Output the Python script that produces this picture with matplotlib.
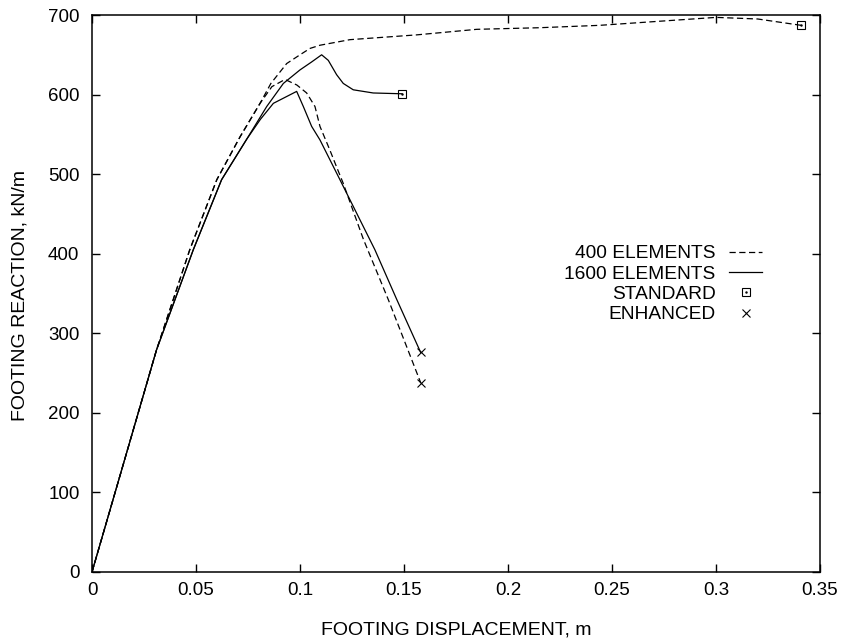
import matplotlib
matplotlib.use("Agg")
import matplotlib.pyplot as plt
from matplotlib.lines import Line2D
from matplotlib.legend_handler import HandlerTuple

plt.rcParams['font.family'] = ['Liberation Sans', 'DejaVu Sans']

# ---- data ----
x_400_std = [0, 0.011, 0.031, 0.047, 0.060, 0.0712, 0.0808, 0.086, 0.0936, 0.100, 0.1048,
             0.1096, 0.124, 0.156, 0.185, 0.215, 0.244, 0.272, 0.300, 0.320, 0.341]
y_400_std = [0, 99, 279, 405, 493, 547, 589, 614, 639, 650, 658,
             662, 669, 675, 682, 684, 687, 692, 697, 695, 687]

x_400_enh = [0, 0.011, 0.031, 0.047, 0.060, 0.0712, 0.0808, 0.0865, 0.0928, 0.0985, 0.1032,
             0.1072, 0.1096, 0.1144, 0.1176, 0.1207, 0.1305, 0.1425, 0.1519, 0.158]
y_400_enh = [0, 99, 279, 405, 493, 547, 589, 610, 619, 612, 602,
             585, 560, 530, 509, 489, 418, 342, 279, 238]

x_1600_std = [0, 0.011, 0.031, 0.0487, 0.0623, 0.0744, 0.084, 0.092, 0.100, 0.1056, 0.1104,
              0.1136, 0.1176, 0.1208, 0.1256, 0.1352, 0.149]
y_1600_std = [0, 99, 279, 405, 493, 544, 585, 614, 631, 641, 650,
              643, 625, 614, 606, 602, 601]

x_1600_enh = [0, 0.011, 0.031, 0.0487, 0.0623, 0.0744, 0.081, 0.0872, 0.0984, 0.1016, 0.1056,
              0.1096, 0.1192, 0.136, 0.1466, 0.158]
y_1600_enh = [0, 99, 279, 405, 493, 544, 569, 589, 604, 585, 560,
              543, 493, 405, 342, 276]

x_ticks = [0, 0.05, 0.1, 0.15, 0.2, 0.25, 0.3, 0.35]
x_tick_labels = ['0', '0.05', '0.1', '0.15', '0.2', '0.25', '0.3', '0.35']
y_ticks = [0, 100, 200, 300, 400, 500, 600, 700]

legend_labels = ['400 ELEMENTS', '1600 ELEMENTS', 'STANDARD', 'ENHANCED']
x_label = 'FOOTING DISPLACEMENT, m'
y_label = 'FOOTING REACTION, kN/m'

# ---- figure ----
fig = plt.figure(figsize=(8.42, 6.43), dpi=100)
ax = fig.add_axes([92 / 842, (643 - 572) / 643, 728 / 842, 557 / 643])

lw = 0.9
dash = (5, 2.8)
k = 'black'

# 400 elements, standard
ax.plot(x_400_std, y_400_std, color=k, lw=lw, dashes=dash, marker='s', ms=5.5,
        mfc='none', mec=k, mew=0.8, markevery=[-1])
ax.plot(x_400_std, y_400_std, ls='none', marker='.', ms=1.5, color=k, markevery=[-1])
# 400 elements, enhanced
ax.plot(x_400_enh, y_400_enh, color=k, lw=lw, dashes=dash, marker='x', ms=6,
        mec=k, mew=0.8, markevery=[-1])
# 1600 elements, standard
ax.plot(x_1600_std, y_1600_std, color=k, lw=lw, marker='s', ms=5.5,
        mfc='none', mec=k, mew=0.8, markevery=[-1])
ax.plot(x_1600_std, y_1600_std, ls='none', marker='.', ms=1.5, color=k, markevery=[-1])
# 1600 elements, enhanced
ax.plot(x_1600_enh, y_1600_enh, color=k, lw=lw, marker='x', ms=6,
        mec=k, mew=0.8, markevery=[-1])

ax.set_xlim(0, 0.35)
ax.set_ylim(0, 700)
ax.set_xticks(x_ticks)
ax.set_xticklabels(x_tick_labels)
ax.set_yticks(y_ticks)

for s in ax.spines.values():
    s.set_linewidth(1.1)
ax.tick_params(axis='both', which='major', direction='in', length=5.5, width=1.0,
               top=True, right=True, labelsize=13.5)
ax.tick_params(axis='x', pad=7)
ax.tick_params(axis='y', pad=9)

ax.set_xlabel(x_label, fontsize=14)
ax.set_ylabel(y_label, fontsize=14)
ax.xaxis.set_label_coords(0.5, -0.088)
ax.yaxis.set_label_coords(-0.087, 0.497)

# legend
h_dash = Line2D([], [], color=k, lw=lw, dashes=dash)
h_solid = Line2D([], [], color=k, lw=lw)
h_sq = (Line2D([], [], ls='none', marker='s', ms=5.5, mfc='none', mec=k, mew=0.8),
        Line2D([], [], ls='none', marker='.', ms=1.5, color=k))
h_x = Line2D([], [], ls='none', marker='x', ms=6, mec=k, mew=0.8)
leg = ax.legend([h_dash, h_solid, h_sq, h_x], legend_labels,
                handler_map={tuple: HandlerTuple(ndivide=1, pad=0)},
                loc='upper right', bbox_to_anchor=(0.921, 0.587), frameon=False,
                markerfirst=False, fontsize=13.8, handlelength=1.75, handletextpad=0.7,
                labelspacing=0.15, borderpad=0, borderaxespad=0)

fig.savefig('out.png', dpi=100)
